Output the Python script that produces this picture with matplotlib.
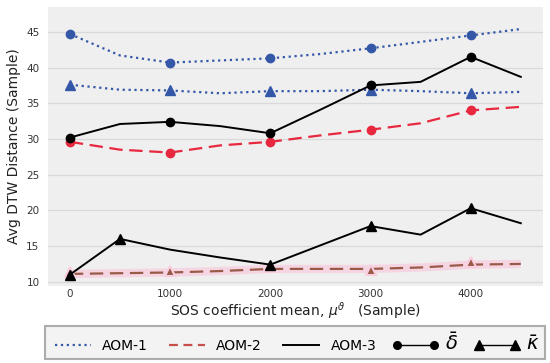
import numpy as np
import matplotlib.pyplot as plt
from matplotlib.lines import Line2D

# SOS coefficient mean (x positions of line vertices)
sos_mean = [0, 500, 1000, 1500, 2000, 2500, 3000, 3500, 4000, 4500]
marker_x = [0, 1000, 2000, 3000, 4000]
xticks = [0, 1000, 2000, 3000, 4000]
yticks = [10, 15, 20, 25, 30, 35, 40, 45]

# AOM-1
aom1_delta = [44.7, 41.7, 40.7, 41.0, 41.3, 41.9, 42.7, 43.6, 44.5, 45.4]
aom1_kappa = [37.6, 36.9, 36.8, 36.4, 36.7, 36.7, 36.9, 36.7, 36.4, 36.6]
# AOM-2
aom2_delta = [29.6, 28.5, 28.1, 29.1, 29.6, 30.5, 31.3, 32.2, 34.0, 34.5]
aom2_kappa = [11.1, 11.2, 11.3, 11.5, 11.8, 11.8, 11.8, 12.0, 12.4, 12.5]
aom2_kappa_pts = [11.4, 11.5, 12.0, 11.7, 12.7]
# AOM-3
aom3_delta = [30.2, 32.1, 32.4, 31.8, 30.8, 34.1, 37.5, 38.0, 41.5, 38.7]
aom3_kappa = [11.0, 16.0, 14.5, 13.4, 12.4, 15.1, 17.8, 16.6, 20.3, 18.2]
aom3_kappa_mx = [0, 500, 2000, 3000, 4000]
aom3_kappa_pts = [11.0, 16.0, 12.4, 17.8, 20.3]

blue = '#3457a8'
red = '#e8283f'
brown = '#9a5a48'
pink = '#f9cfe0'

fig = plt.figure(figsize=(5.5, 3.63), dpi=100)
ax = fig.add_axes([0.087, 0.212, 0.9, 0.769])
ax.set_facecolor('#efefef')

def pick(vals):
    return [vals[sos_mean.index(x)] for x in marker_x]

# AOM-1
ax.plot(sos_mean, aom1_delta, ':', color=blue, lw=1.6)
ax.plot(marker_x, pick(aom1_delta), 'o', color=blue, ms=6, ls='none')
ax.plot(sos_mean, aom1_kappa, ':', color=blue, lw=1.6)
ax.plot(marker_x, pick(aom1_kappa), '^', color=blue, ms=6.5, ls='none')

# AOM-2
ax.plot(sos_mean, aom2_delta, '--', color=red, lw=1.6, dashes=(6, 3))
ax.plot(marker_x, pick(aom2_delta), 'o', color=red, ms=6, ls='none')
ax.plot(sos_mean, aom2_kappa, '-', color=pink, lw=6, alpha=0.8, solid_capstyle='butt')
ax.plot(sos_mean, aom2_kappa, '--', color=brown, lw=1.6, dashes=(6, 3))
ax.plot(marker_x, aom2_kappa_pts, '^', color=brown, ms=6.5, ls='none',
        markeredgecolor=pink, markeredgewidth=1.5)

# AOM-3
ax.plot(sos_mean, aom3_delta, '-', color='black', lw=1.4)
ax.plot(marker_x, pick(aom3_delta), 'o', color='black', ms=6, ls='none')
ax.plot(sos_mean, aom3_kappa, '-', color='black', lw=1.4)
ax.plot(aom3_kappa_mx, aom3_kappa_pts, '^', color='black', ms=6.5, ls='none')

ax.set_xlim(-220, 4720)
ax.set_ylim(9.4, 48.5)
ax.set_xticks(xticks)
ax.set_yticks(yticks)
ax.tick_params(axis='y', length=0, labelsize=7.5, labelcolor='#333333', pad=6)
ax.tick_params(axis='x', length=0, labelsize=7.5, labelcolor='#333333', pad=2)
ax.grid(axis='y', color='#d9d9d9', lw=0.9)
ax.set_axisbelow(True)
for s in ax.spines.values():
    s.set_visible(False)

ax.set_ylabel('Avg DTW Distance (Sample)', fontsize=10, color='#222222')
ax.set_xlabel(r'SOS coefficient mean, $\mu^{\vartheta}$   (Sample)', fontsize=10,
              color='#222222', labelpad=1)

handles = [
    Line2D([], [], ls=':', color=blue, lw=1.6),
    Line2D([], [], ls='--', color='#c8504a', lw=1.6, dashes=(4, 2.5)),
    Line2D([], [], ls='-', color='black', lw=1.4),
    Line2D([], [], ls='-', color='black', lw=1, marker='o', ms=5.5),
    Line2D([], [], ls='-', color='black', lw=1, marker='^', ms=6.5),
]
labels = ['AOM-1', 'AOM-2', 'AOM-3', r'$\bar{\delta}$', r'$\bar{\kappa}$']
leg = fig.legend(handles, labels, loc='lower left', ncol=5, mode='expand',
                 bbox_to_anchor=(0.082, 0.01, 0.909, 0.11), fontsize=10,
                 handlelength=3.2, numpoints=2, frameon=True, fancybox=False,
                 borderaxespad=0, handletextpad=0.5, columnspacing=0.6)
leg.get_frame().set_facecolor('#f0f0f0')
leg.get_frame().set_edgecolor('#999999')
leg.get_frame().set_linewidth(1.5)
for t in leg.get_texts()[3:]:
    t.set_fontsize(14)

fig.savefig('out.png', dpi=100)
